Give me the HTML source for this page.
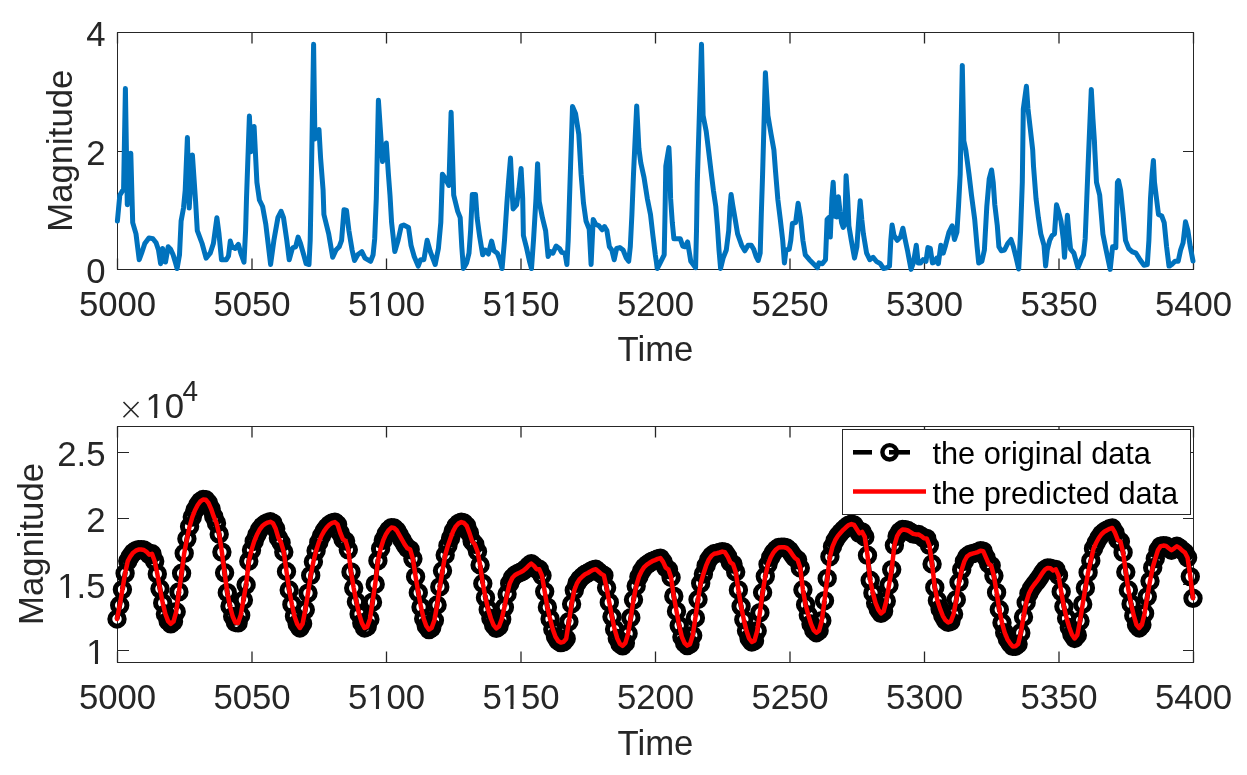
<!DOCTYPE html>
<html><head><meta charset="utf-8"><style>
html,body{margin:0;padding:0;background:#fff;}
body{width:1247px;height:775px;overflow:hidden;}
svg{display:block;will-change:transform;}
text{font-family:"Liberation Sans",sans-serif;}
</style></head><body>
<svg width="1247" height="775" viewBox="0 0 1247 775">
<rect width="1247" height="775" fill="#fff"/>
<g shape-rendering="crispEdges">
<rect x="117.5" y="32.5" width="1076" height="237" fill="none" stroke="#262626" stroke-width="1"/>
<line x1="117.5" y1="269.5" x2="117.5" y2="258.5" stroke="#262626" stroke-width="1.3" shape-rendering="auto"/>
<line x1="117.5" y1="32.5" x2="117.5" y2="43.5" stroke="#262626" stroke-width="1.3" shape-rendering="auto"/>
<line x1="252.0" y1="269.5" x2="252.0" y2="258.5" stroke="#262626" stroke-width="1.3" shape-rendering="auto"/>
<line x1="252.0" y1="32.5" x2="252.0" y2="43.5" stroke="#262626" stroke-width="1.3" shape-rendering="auto"/>
<line x1="386.5" y1="269.5" x2="386.5" y2="258.5" stroke="#262626" stroke-width="1.3" shape-rendering="auto"/>
<line x1="386.5" y1="32.5" x2="386.5" y2="43.5" stroke="#262626" stroke-width="1.3" shape-rendering="auto"/>
<line x1="521.0" y1="269.5" x2="521.0" y2="258.5" stroke="#262626" stroke-width="1.3" shape-rendering="auto"/>
<line x1="521.0" y1="32.5" x2="521.0" y2="43.5" stroke="#262626" stroke-width="1.3" shape-rendering="auto"/>
<line x1="655.5" y1="269.5" x2="655.5" y2="258.5" stroke="#262626" stroke-width="1.3" shape-rendering="auto"/>
<line x1="655.5" y1="32.5" x2="655.5" y2="43.5" stroke="#262626" stroke-width="1.3" shape-rendering="auto"/>
<line x1="790.0" y1="269.5" x2="790.0" y2="258.5" stroke="#262626" stroke-width="1.3" shape-rendering="auto"/>
<line x1="790.0" y1="32.5" x2="790.0" y2="43.5" stroke="#262626" stroke-width="1.3" shape-rendering="auto"/>
<line x1="924.5" y1="269.5" x2="924.5" y2="258.5" stroke="#262626" stroke-width="1.3" shape-rendering="auto"/>
<line x1="924.5" y1="32.5" x2="924.5" y2="43.5" stroke="#262626" stroke-width="1.3" shape-rendering="auto"/>
<line x1="1059.0" y1="269.5" x2="1059.0" y2="258.5" stroke="#262626" stroke-width="1.3" shape-rendering="auto"/>
<line x1="1059.0" y1="32.5" x2="1059.0" y2="43.5" stroke="#262626" stroke-width="1.3" shape-rendering="auto"/>
<line x1="1193.5" y1="269.5" x2="1193.5" y2="258.5" stroke="#262626" stroke-width="1.3" shape-rendering="auto"/>
<line x1="1193.5" y1="32.5" x2="1193.5" y2="43.5" stroke="#262626" stroke-width="1.3" shape-rendering="auto"/>
<line x1="117.5" y1="269.5" x2="128.5" y2="269.5" stroke="#262626" stroke-width="1"/>
<line x1="1193.5" y1="269.5" x2="1182.5" y2="269.5" stroke="#262626" stroke-width="1"/>
<line x1="117.5" y1="151.5" x2="128.5" y2="151.5" stroke="#262626" stroke-width="1"/>
<line x1="1193.5" y1="151.5" x2="1182.5" y2="151.5" stroke="#262626" stroke-width="1"/>
<line x1="117.5" y1="32.5" x2="128.5" y2="32.5" stroke="#262626" stroke-width="1"/>
<line x1="1193.5" y1="32.5" x2="1182.5" y2="32.5" stroke="#262626" stroke-width="1"/>
<rect x="117.5" y="426.5" width="1076" height="236" fill="none" stroke="#262626" stroke-width="1"/>
<line x1="117.5" y1="662.5" x2="117.5" y2="651.5" stroke="#262626" stroke-width="1.3" shape-rendering="auto"/>
<line x1="117.5" y1="426.5" x2="117.5" y2="437.5" stroke="#262626" stroke-width="1.3" shape-rendering="auto"/>
<line x1="252.0" y1="662.5" x2="252.0" y2="651.5" stroke="#262626" stroke-width="1.3" shape-rendering="auto"/>
<line x1="252.0" y1="426.5" x2="252.0" y2="437.5" stroke="#262626" stroke-width="1.3" shape-rendering="auto"/>
<line x1="386.5" y1="662.5" x2="386.5" y2="651.5" stroke="#262626" stroke-width="1.3" shape-rendering="auto"/>
<line x1="386.5" y1="426.5" x2="386.5" y2="437.5" stroke="#262626" stroke-width="1.3" shape-rendering="auto"/>
<line x1="521.0" y1="662.5" x2="521.0" y2="651.5" stroke="#262626" stroke-width="1.3" shape-rendering="auto"/>
<line x1="521.0" y1="426.5" x2="521.0" y2="437.5" stroke="#262626" stroke-width="1.3" shape-rendering="auto"/>
<line x1="655.5" y1="662.5" x2="655.5" y2="651.5" stroke="#262626" stroke-width="1.3" shape-rendering="auto"/>
<line x1="655.5" y1="426.5" x2="655.5" y2="437.5" stroke="#262626" stroke-width="1.3" shape-rendering="auto"/>
<line x1="790.0" y1="662.5" x2="790.0" y2="651.5" stroke="#262626" stroke-width="1.3" shape-rendering="auto"/>
<line x1="790.0" y1="426.5" x2="790.0" y2="437.5" stroke="#262626" stroke-width="1.3" shape-rendering="auto"/>
<line x1="924.5" y1="662.5" x2="924.5" y2="651.5" stroke="#262626" stroke-width="1.3" shape-rendering="auto"/>
<line x1="924.5" y1="426.5" x2="924.5" y2="437.5" stroke="#262626" stroke-width="1.3" shape-rendering="auto"/>
<line x1="1059.0" y1="662.5" x2="1059.0" y2="651.5" stroke="#262626" stroke-width="1.3" shape-rendering="auto"/>
<line x1="1059.0" y1="426.5" x2="1059.0" y2="437.5" stroke="#262626" stroke-width="1.3" shape-rendering="auto"/>
<line x1="1193.5" y1="662.5" x2="1193.5" y2="651.5" stroke="#262626" stroke-width="1.3" shape-rendering="auto"/>
<line x1="1193.5" y1="426.5" x2="1193.5" y2="437.5" stroke="#262626" stroke-width="1.3" shape-rendering="auto"/>
<line x1="117.5" y1="650.5" x2="128.5" y2="650.5" stroke="#262626" stroke-width="1"/>
<line x1="1193.5" y1="650.5" x2="1182.5" y2="650.5" stroke="#262626" stroke-width="1"/>
<line x1="117.5" y1="584.5" x2="128.5" y2="584.5" stroke="#262626" stroke-width="1"/>
<line x1="1193.5" y1="584.5" x2="1182.5" y2="584.5" stroke="#262626" stroke-width="1"/>
<line x1="117.5" y1="518.5" x2="128.5" y2="518.5" stroke="#262626" stroke-width="1"/>
<line x1="1193.5" y1="518.5" x2="1182.5" y2="518.5" stroke="#262626" stroke-width="1"/>
<line x1="117.5" y1="452.5" x2="128.5" y2="452.5" stroke="#262626" stroke-width="1"/>
<line x1="1193.5" y1="452.5" x2="1182.5" y2="452.5" stroke="#262626" stroke-width="1"/>
</g>
<g font-size="34.7" fill="#262626">
<text transform="translate(105.5 283.0) scale(1 1.03)" text-anchor="end">0</text>
<text transform="translate(105.5 165.0) scale(1 1.03)" text-anchor="end">2</text>
<text transform="translate(105.5 46.0) scale(1 1.03)" text-anchor="end">4</text>
<text transform="translate(105.5 664.0) scale(1 1.03)" text-anchor="end">1</text>
<text transform="translate(105.5 598.0) scale(1 1.03)" text-anchor="end">1.5</text>
<text transform="translate(105.5 532.0) scale(1 1.03)" text-anchor="end">2</text>
<text transform="translate(105.5 466.0) scale(1 1.03)" text-anchor="end">2.5</text>
<text transform="translate(117.5 316.1) scale(1 1.03)" text-anchor="middle">5000</text>
<text transform="translate(252.0 316.1) scale(1 1.03)" text-anchor="middle">5050</text>
<text transform="translate(386.5 316.1) scale(1 1.03)" text-anchor="middle">5100</text>
<text transform="translate(521.0 316.1) scale(1 1.03)" text-anchor="middle">5150</text>
<text transform="translate(655.5 316.1) scale(1 1.03)" text-anchor="middle">5200</text>
<text transform="translate(790.0 316.1) scale(1 1.03)" text-anchor="middle">5250</text>
<text transform="translate(924.5 316.1) scale(1 1.03)" text-anchor="middle">5300</text>
<text transform="translate(1059.0 316.1) scale(1 1.03)" text-anchor="middle">5350</text>
<text transform="translate(1193.5 316.1) scale(1 1.03)" text-anchor="middle">5400</text>
<text transform="translate(117.5 709.4) scale(1 1.03)" text-anchor="middle">5000</text>
<text transform="translate(252.0 709.4) scale(1 1.03)" text-anchor="middle">5050</text>
<text transform="translate(386.5 709.4) scale(1 1.03)" text-anchor="middle">5100</text>
<text transform="translate(521.0 709.4) scale(1 1.03)" text-anchor="middle">5150</text>
<text transform="translate(655.5 709.4) scale(1 1.03)" text-anchor="middle">5200</text>
<text transform="translate(790.0 709.4) scale(1 1.03)" text-anchor="middle">5250</text>
<text transform="translate(924.5 709.4) scale(1 1.03)" text-anchor="middle">5300</text>
<text transform="translate(1059.0 709.4) scale(1 1.03)" text-anchor="middle">5350</text>
<text transform="translate(1193.5 709.4) scale(1 1.03)" text-anchor="middle">5400</text>
<text transform="translate(655.5 361.0) scale(1 1.03)" text-anchor="middle">Time</text>
<text transform="translate(655.5 754.7) scale(1 1.03)" text-anchor="middle">Time</text>
<text transform="translate(72.3 150.7) rotate(-90) scale(1 1.03)" text-anchor="middle">Magnitude</text>
<text transform="translate(43.1 544) rotate(-90) scale(1 1.03)" text-anchor="middle">Magnitude</text>
<text transform="translate(145.4 418.3) scale(1 1.03)" text-anchor="start">10</text>
<text transform="translate(182.5 401) scale(1 1.03)" font-size="28">4</text>
</g>
<rect x="368.24" y="312.20" width="7.68" height="4.6" fill="#fff"/><rect x="378.99" y="312.20" width="7.41" height="4.6" fill="#fff"/>
<rect x="502.74" y="312.20" width="7.68" height="4.6" fill="#fff"/><rect x="513.49" y="312.20" width="7.41" height="4.6" fill="#fff"/>
<rect x="368.24" y="705.50" width="7.68" height="4.6" fill="#fff"/><rect x="378.99" y="705.50" width="7.41" height="4.6" fill="#fff"/>
<rect x="502.74" y="705.50" width="7.68" height="4.6" fill="#fff"/><rect x="513.49" y="705.50" width="7.41" height="4.6" fill="#fff"/>
<rect x="58.31" y="594.10" width="7.68" height="4.6" fill="#fff"/><rect x="69.05" y="594.10" width="7.41" height="4.6" fill="#fff"/>
<rect x="87.24" y="660.10" width="7.68" height="4.6" fill="#fff"/><rect x="97.99" y="660.10" width="7.41" height="4.6" fill="#fff"/>
<rect x="146.44" y="414.40" width="7.68" height="4.6" fill="#fff"/><rect x="157.19" y="414.40" width="7.41" height="4.6" fill="#fff"/>
<path d="M117.4 221.0 L119.8 195.2 L122.3 191.1 L123.6 189.0 L125.4 88.5 L127.3 204.8 L130.8 153.3 L132.7 222.6 L136.0 233.9 L139.2 259.7 L141.6 253.2 L144.8 243.5 L148.9 237.9 L152.9 238.7 L156.1 242.7 L158.5 250.0 L160.6 263.7 L162.6 248.4 L164.2 261.3 L165.5 262.0 L168.2 246.8 L170.6 249.2 L173.1 254.8 L175.5 262.9 L177.1 268.5 L179.5 254.8 L181.1 221.0 L183.5 208.1 L185.2 190.3 L187.4 137.5 L189.2 208.1 L192.4 154.9 L195.6 201.6 L197.3 230.6 L202.1 243.5 L206.1 258.1 L210.2 253.2 L213.4 243.5 L216.9 217.7 L219.0 233.9 L221.5 259.7 L226.3 259.7 L228.5 256.0 L230.3 241.1 L232.0 246.8 L235.2 248.4 L238.4 244.4 L240.8 253.2 L244.0 262.1 L245.6 230.6 L246.5 198.4 L249.4 116.0 L251.0 151.7 L254.1 126.4 L256.9 182.3 L259.4 200.0 L262.6 206.5 L265.8 224.2 L270.6 264.5 L273.9 240.3 L277.9 217.7 L281.1 211.3 L283.5 217.7 L286.8 240.3 L289.2 259.7 L292.4 248.4 L293.2 247.6 L295.6 246.8 L298.1 237.1 L300.5 243.5 L303.7 254.8 L306.1 263.7 L309.0 264.5 L310.2 240.3 L311.0 198.4 L313.6 44.2 L314.9 139.1 L319.0 129.6 L320.6 158.1 L323.1 190.3 L323.9 214.5 L328.7 233.9 L332.7 257.3 L336.0 250.0 L339.2 246.8 L341.6 240.3 L344.0 209.7 L346.5 210.5 L348.9 230.6 L352.1 250.0 L354.5 260.5 L357.7 254.8 L361.8 251.6 L365.0 258.1 L370.6 261.3 L373.1 254.8 L374.7 238.7 L376.3 198.4 L378.4 100.2 L382.5 161.5 L386.3 143.0 L388.4 174.2 L390.0 195.2 L391.6 222.6 L394.8 251.6 L398.1 240.3 L401.3 225.8 L403.7 225.0 L408.5 227.4 L411.0 245.2 L414.2 256.5 L418.2 266.1 L420.6 259.7 L423.9 259.7 L427.1 240.3 L430.3 251.6 L435.2 264.5 L438.4 248.4 L440.8 222.6 L442.4 174.2 L445.6 179.0 L448.9 185.5 L451.1 112.2 L453.7 195.2 L457.7 211.3 L460.2 217.7 L461.8 246.8 L463.4 268.5 L465.8 264.5 L466.6 262.9 L469.0 253.2 L470.6 230.6 L472.3 194.4 L475.5 194.4 L477.1 217.7 L479.5 235.5 L482.7 254.8 L485.2 250.0 L488.4 254.0 L491.6 241.1 L494.0 250.8 L497.3 253.2 L499.7 259.7 L502.1 268.5 L504.5 240.3 L506.9 203.2 L508.5 182.3 L510.5 158.1 L512.1 191.9 L513.1 208.9 L516.6 204.8 L519.0 188.7 L521.1 168.5 L522.7 198.4 L523.4 235.5 L526.3 246.8 L529.5 261.3 L531.5 268.5 L533.5 240.3 L536.0 198.4 L537.6 163.7 L539.2 201.6 L542.4 217.7 L545.6 230.6 L548.1 256.5 L550.5 251.6 L552.9 253.2 L556.1 246.0 L559.4 248.4 L561.8 252.4 L565.0 253.2 L566.9 264.5 L568.2 240.3 L569.5 198.4 L572.5 106.5 L575.6 113.8 L578.8 134.4 L581.1 174.2 L583.5 203.2 L586.0 221.0 L589.2 229.0 L591.1 264.5 L593.2 219.4 L595.6 224.2 L598.9 225.8 L602.1 229.8 L604.5 226.6 L606.9 230.6 L609.4 246.8 L611.8 250.0 L614.2 259.7 L616.6 248.4 L619.8 247.6 L623.1 250.0 L626.3 258.1 L628.7 261.3 L630.3 246.8 L631.9 214.5 L633.5 174.2 L636.7 105.9 L638.9 148.6 L640.8 162.9 L644.0 177.4 L647.3 198.4 L650.5 214.5 L652.9 235.5 L655.3 254.8 L657.4 268.5 L660.2 262.9 L664.2 254.8 L665.0 214.5 L665.8 166.1 L668.9 147.6 L669.8 166.1 L670.6 198.4 L672.3 222.6 L673.9 238.7 L677.9 238.7 L680.3 238.7 L682.7 246.0 L685.2 246.8 L687.6 241.9 L689.2 251.6 L690.8 261.3 L693.2 264.5 L695.6 267.7 L696.5 230.6 L697.3 182.3 L701.5 44.2 L703.1 115.4 L706.2 131.2 L708.5 150.0 L711.0 171.0 L713.4 190.3 L715.8 206.5 L717.4 225.8 L719.0 250.0 L720.6 268.5 L723.1 258.1 L726.3 250.0 L728.7 230.6 L730.0 206.5 L731.1 194.4 L732.7 204.8 L735.2 219.4 L737.6 233.9 L741.6 245.2 L744.8 250.8 L748.1 245.2 L751.3 245.2 L753.7 249.2 L756.1 256.5 L758.2 260.5 L760.2 253.2 L761.3 214.5 L762.6 174.2 L765.4 72.7 L767.9 115.4 L771.1 134.4 L773.9 150.0 L775.5 171.0 L777.9 200.0 L780.3 219.4 L782.7 240.3 L784.4 262.9 L786.0 250.0 L789.2 249.2 L790.8 240.3 L792.4 223.4 L795.6 222.6 L798.1 203.2 L800.5 217.7 L802.9 240.3 L805.3 254.8 L809.4 259.7 L813.4 263.7 L817.4 267.7 L819.0 262.9 L822.3 263.7 L825.5 259.7 L827.1 219.4 L828.7 217.7 L830.3 237.1 L831.9 198.4 L833.2 182.3 L834.8 216.1 L836.8 216.9 L838.4 196.8 L840.0 211.3 L841.6 222.6 L843.2 227.4 L844.8 224.2 L846.1 175.8 L847.7 198.4 L848.9 225.8 L851.3 240.3 L854.5 258.1 L856.9 246.8 L858.5 222.6 L860.2 200.8 L861.8 219.4 L863.4 233.9 L866.6 253.2 L869.8 259.7 L873.1 257.3 L876.3 261.3 L880.3 263.7 L883.5 268.5 L886.8 267.7 L889.5 266.1 L890.8 240.3 L892.1 225.0 L894.0 235.5 L897.3 240.3 L900.5 237.1 L902.9 228.2 L905.3 240.3 L907.7 251.6 L911.0 269.4 L913.4 262.9 L916.3 245.2 L918.2 262.9 L920.6 262.9 L923.1 259.7 L926.0 261.3 L927.9 247.6 L930.3 248.4 L932.4 262.9 L934.4 262.1 L936.8 258.1 L938.4 263.7 L940.8 245.2 L943.2 253.2 L945.6 245.2 L948.9 232.3 L952.1 225.8 L954.5 239.5 L956.9 232.3 L958.5 206.5 L960.2 174.2 L962.3 65.4 L963.8 140.7 L965.8 150.0 L969.0 174.2 L971.5 195.2 L974.7 219.4 L977.1 246.8 L978.7 262.9 L981.9 261.3 L984.4 250.0 L986.8 206.5 L989.2 179.0 L991.6 170.0 L993.2 182.3 L994.8 204.8 L997.3 225.8 L998.9 246.8 L1001.3 250.8 L1004.5 250.0 L1007.7 243.5 L1011.0 239.5 L1013.4 246.8 L1015.8 256.5 L1018.7 269.0 L1020.6 230.6 L1022.3 182.3 L1023.3 109.0 L1026.4 86.3 L1028.0 109.0 L1030.2 128.0 L1032.7 150.0 L1033.5 166.1 L1036.0 198.4 L1038.4 217.7 L1040.8 233.9 L1044.0 245.2 L1045.6 266.1 L1047.3 250.0 L1049.7 240.3 L1052.1 235.5 L1054.5 233.9 L1056.5 204.8 L1058.5 211.3 L1061.0 221.0 L1063.4 240.3 L1064.5 257.3 L1065.8 238.7 L1067.4 215.3 L1069.0 233.9 L1070.6 249.2 L1073.9 253.2 L1077.9 267.7 L1081.1 259.7 L1083.5 254.8 L1085.2 238.7 L1086.8 198.4 L1088.4 158.1 L1091.3 89.4 L1092.9 118.5 L1094.4 140.7 L1094.8 150.0 L1096.5 182.3 L1099.7 195.2 L1102.9 233.9 L1106.1 250.0 L1110.2 269.4 L1112.6 246.8 L1115.8 247.6 L1117.4 182.3 L1118.5 180.6 L1120.6 190.3 L1123.1 214.5 L1125.5 240.3 L1128.7 248.4 L1131.9 251.6 L1136.0 253.2 L1140.0 259.7 L1144.0 265.3 L1147.3 264.5 L1148.9 240.3 L1150.5 198.4 L1152.1 174.2 L1153.4 160.5 L1154.5 182.3 L1156.1 195.2 L1158.5 214.5 L1161.8 216.1 L1164.2 222.6 L1166.6 246.8 L1169.0 266.1 L1169.4 266.1 L1171.8 264.5 L1175.0 261.3 L1178.2 261.3 L1180.6 250.0 L1183.1 242.7 L1185.5 221.8 L1187.9 230.6 L1190.3 246.8 L1193.0 261.0" fill="none" stroke="#0072BD" stroke-width="5" stroke-linejoin="round" stroke-linecap="round"/>
<g fill="none" stroke="#000" stroke-width="5.0">
<path d="M117.0 619.0 L119.7 605.3 L122.4 589.6 L125.1 573.3 L127.8 561.1 L130.4 556.3 L133.1 552.7 L135.8 550.7 L138.5 549.6 L141.2 549.6 L143.9 550.0 L146.6 551.8 L149.3 554.7 L152.0 553.8 L154.7 561.2 L157.3 573.9 L160.0 588.8 L162.7 602.9 L165.4 614.0 L168.1 621.1 L170.8 623.8 L173.5 621.6 L176.2 611.8 L178.9 591.9 L181.6 573.3 L184.2 553.3 L186.9 538.8 L189.6 526.5 L192.3 517.1 L195.0 510.2 L197.7 505.0 L200.4 501.4 L203.1 499.5 L205.8 499.8 L208.5 503.0 L211.1 508.8 L213.8 516.7 L216.5 523.2 L219.2 534.2 L221.9 552.1 L224.6 572.8 L227.3 592.7 L230.0 606.2 L232.7 616.5 L235.4 622.5 L238.1 622.9 L240.7 615.3 L243.4 600.1 L246.1 584.8 L248.8 561.2 L251.5 550.1 L254.2 541.3 L256.9 534.8 L259.6 529.7 L262.3 526.1 L264.9 524.0 L267.6 522.6 L270.3 521.8 L273.0 523.2 L275.7 528.8 L278.4 537.9 L281.1 542.7 L283.8 552.0 L286.5 571.5 L289.2 590.0 L291.9 604.4 L294.5 616.3 L297.2 623.9 L299.9 628.0 L302.6 623.7 L305.3 609.8 L308.0 593.1 L310.7 575.4 L313.4 561.8 L316.1 550.8 L318.8 542.4 L321.4 536.0 L324.1 531.1 L326.8 527.4 L329.5 524.7 L332.2 522.9 L334.9 522.1 L337.6 524.5 L340.3 533.0 L343.0 539.3 L345.6 541.0 L348.3 549.8 L351.0 571.9 L353.7 588.1 L356.4 601.8 L359.1 613.9 L361.8 622.9 L364.5 628.0 L367.2 626.7 L369.9 619.2 L372.5 602.2 L375.2 584.2 L377.9 560.7 L380.6 548.7 L383.3 540.2 L386.0 534.2 L388.7 530.1 L391.4 527.6 L394.1 528.0 L396.8 530.5 L399.4 535.2 L402.1 539.9 L404.8 544.6 L407.5 548.3 L410.2 549.6 L412.9 558.8 L415.6 576.7 L418.3 592.7 L421.0 607.1 L423.7 618.8 L426.3 626.0 L429.0 629.6 L431.7 627.8 L434.4 620.3 L437.1 605.0 L439.8 586.9 L442.5 570.8 L445.2 555.0 L447.9 545.7 L450.6 538.1 L453.2 531.1 L455.9 526.2 L458.6 523.4 L461.3 522.1 L464.0 523.0 L466.7 525.9 L469.4 532.9 L472.1 541.1 L474.8 544.4 L477.5 551.5 L480.1 565.0 L482.8 583.5 L485.5 597.7 L488.2 609.5 L490.9 618.5 L493.6 625.1 L496.3 628.4 L499.0 626.5 L501.7 619.3 L504.4 607.3 L507.1 594.0 L509.7 583.4 L512.4 577.8 L515.1 575.0 L517.8 573.5 L520.5 572.3 L523.2 570.8 L525.9 568.6 L528.6 565.8 L531.3 563.6 L534.0 565.9 L536.6 569.2 L539.3 569.3 L542.0 575.6 L544.7 591.6 L547.4 607.2 L550.1 618.9 L552.8 629.2 L555.5 636.8 L558.2 641.0 L560.8 642.6 L563.5 641.9 L566.2 638.7 L568.9 621.7 L571.6 604.0 L574.3 590.3 L577.0 583.2 L579.7 579.1 L582.4 576.5 L585.1 574.3 L587.8 573.0 L590.4 571.4 L593.1 569.9 L595.8 569.3 L598.5 571.5 L601.2 573.9 L603.9 575.4 L606.6 587.8 L609.3 602.4 L612.0 616.8 L614.6 629.2 L617.3 638.5 L620.0 644.0 L622.7 645.8 L625.4 642.9 L628.1 633.6 L630.8 617.7 L633.5 599.8 L636.2 586.0 L638.9 576.8 L641.5 571.2 L644.2 567.1 L646.9 564.6 L649.6 562.8 L652.3 561.2 L655.0 560.1 L657.7 558.9 L660.4 558.1 L663.1 561.9 L665.8 567.7 L668.5 569.6 L671.1 577.5 L673.8 596.2 L676.5 611.2 L679.2 625.6 L681.9 637.0 L684.6 643.1 L687.3 645.6 L690.0 644.2 L692.7 635.5 L695.4 617.9 L698.0 599.5 L700.7 583.3 L703.4 574.0 L706.1 565.7 L708.8 559.5 L711.5 555.8 L714.2 553.8 L716.9 553.2 L719.6 552.5 L722.2 551.6 L724.9 552.3 L727.6 556.4 L730.3 562.3 L733.0 564.1 L735.7 572.0 L738.4 589.9 L741.1 606.3 L743.8 619.6 L746.5 630.8 L749.1 638.5 L751.8 642.0 L754.5 640.7 L757.2 630.8 L759.9 612.7 L762.6 592.5 L765.3 576.3 L768.0 564.3 L770.7 557.4 L773.4 552.7 L776.0 549.5 L778.7 547.5 L781.4 547.3 L784.1 547.3 L786.8 548.0 L789.5 550.4 L792.2 554.3 L794.9 558.0 L797.6 559.8 L800.3 568.0 L802.9 589.8 L805.6 604.7 L808.3 615.0 L811.0 623.9 L813.7 630.1 L816.4 632.7 L819.1 630.7 L821.8 620.7 L824.5 600.7 L827.2 578.4 L829.9 556.7 L832.5 546.6 L835.2 540.3 L837.9 535.9 L840.6 532.7 L843.3 529.8 L846.0 527.3 L848.7 525.1 L851.4 524.1 L854.1 525.0 L856.8 529.2 L859.4 533.4 L862.1 531.9 L864.8 536.9 L867.5 555.3 L870.2 580.3 L872.9 592.9 L875.6 603.1 L878.3 609.7 L881.0 613.4 L883.6 611.3 L886.3 601.1 L889.0 585.1 L891.7 569.6 L894.4 545.3 L897.1 536.2 L899.8 531.7 L902.5 529.5 L905.2 529.8 L907.9 530.5 L910.5 532.1 L913.2 533.9 L915.9 534.4 L918.6 534.5 L921.3 536.1 L924.0 538.3 L926.7 538.4 L929.4 545.3 L932.1 564.0 L934.8 587.4 L937.4 600.6 L940.1 608.9 L942.8 615.8 L945.5 620.3 L948.2 622.4 L950.9 621.3 L953.6 614.0 L956.3 599.7 L959.0 582.3 L961.7 569.7 L964.4 561.3 L967.0 556.5 L969.7 554.5 L972.4 553.6 L975.1 552.9 L977.8 552.1 L980.5 550.7 L983.2 551.2 L985.9 557.3 L988.6 563.6 L991.2 565.6 L993.9 575.8 L996.6 592.4 L999.3 609.5 L1002.0 622.8 L1004.7 632.7 L1007.4 639.2 L1010.1 643.4 L1012.8 646.4 L1015.5 646.2 L1018.1 644.1 L1020.8 632.9 L1023.5 617.0 L1026.2 602.5 L1028.9 593.6 L1031.6 588.3 L1034.3 584.5 L1037.0 581.2 L1039.7 577.3 L1042.4 573.0 L1045.0 569.7 L1047.7 567.9 L1050.4 568.3 L1053.1 570.5 L1055.8 569.4 L1058.5 575.4 L1061.2 591.7 L1063.9 606.6 L1066.6 618.2 L1069.3 627.5 L1071.9 634.5 L1074.6 638.5 L1077.3 635.2 L1080.0 621.1 L1082.7 604.2 L1085.4 587.9 L1088.1 572.4 L1090.8 560.7 L1093.5 548.7 L1096.2 542.8 L1098.8 538.0 L1101.5 534.2 L1104.2 531.8 L1106.9 530.2 L1109.6 528.8 L1112.3 528.0 L1115.0 532.7 L1117.7 539.7 L1120.4 541.5 L1123.1 552.4 L1125.8 572.0 L1128.4 590.0 L1131.1 603.9 L1133.8 615.7 L1136.5 624.8 L1139.2 628.0 L1141.9 624.8 L1144.6 613.4 L1147.3 596.6 L1150.0 581.1 L1152.7 567.7 L1155.3 558.6 L1158.0 550.0 L1160.7 546.1 L1163.4 545.6 L1166.1 546.0 L1168.8 548.2 L1171.5 550.2 L1174.2 548.3 L1176.9 546.3 L1179.5 547.9 L1182.2 550.5 L1184.9 552.5 L1187.6 557.7 L1190.3 576.6 L1193.0 598.3" stroke-dasharray="18 12"/>
<circle cx="117.0" cy="619.0" r="7.2"/><circle cx="119.7" cy="605.3" r="7.2"/><circle cx="122.4" cy="589.6" r="7.2"/><circle cx="125.1" cy="573.3" r="7.2"/><circle cx="127.8" cy="561.1" r="7.2"/><circle cx="130.4" cy="556.3" r="7.2"/><circle cx="133.1" cy="552.7" r="7.2"/><circle cx="135.8" cy="550.7" r="7.2"/><circle cx="138.5" cy="549.6" r="7.2"/><circle cx="141.2" cy="549.6" r="7.2"/><circle cx="143.9" cy="550.0" r="7.2"/><circle cx="146.6" cy="551.8" r="7.2"/><circle cx="149.3" cy="554.7" r="7.2"/><circle cx="152.0" cy="553.8" r="7.2"/><circle cx="154.7" cy="561.2" r="7.2"/><circle cx="157.3" cy="573.9" r="7.2"/><circle cx="160.0" cy="588.8" r="7.2"/><circle cx="162.7" cy="602.9" r="7.2"/><circle cx="165.4" cy="614.0" r="7.2"/><circle cx="168.1" cy="621.1" r="7.2"/><circle cx="170.8" cy="623.8" r="7.2"/><circle cx="173.5" cy="621.6" r="7.2"/><circle cx="176.2" cy="611.8" r="7.2"/><circle cx="178.9" cy="591.9" r="7.2"/><circle cx="181.6" cy="573.3" r="7.2"/><circle cx="184.2" cy="553.3" r="7.2"/><circle cx="186.9" cy="538.8" r="7.2"/><circle cx="189.6" cy="526.5" r="7.2"/><circle cx="192.3" cy="517.1" r="7.2"/><circle cx="195.0" cy="510.2" r="7.2"/><circle cx="197.7" cy="505.0" r="7.2"/><circle cx="200.4" cy="501.4" r="7.2"/><circle cx="203.1" cy="499.5" r="7.2"/><circle cx="205.8" cy="499.8" r="7.2"/><circle cx="208.5" cy="503.0" r="7.2"/><circle cx="211.1" cy="508.8" r="7.2"/><circle cx="213.8" cy="516.7" r="7.2"/><circle cx="216.5" cy="523.2" r="7.2"/><circle cx="219.2" cy="534.2" r="7.2"/><circle cx="221.9" cy="552.1" r="7.2"/><circle cx="224.6" cy="572.8" r="7.2"/><circle cx="227.3" cy="592.7" r="7.2"/><circle cx="230.0" cy="606.2" r="7.2"/><circle cx="232.7" cy="616.5" r="7.2"/><circle cx="235.4" cy="622.5" r="7.2"/><circle cx="238.1" cy="622.9" r="7.2"/><circle cx="240.7" cy="615.3" r="7.2"/><circle cx="243.4" cy="600.1" r="7.2"/><circle cx="246.1" cy="584.8" r="7.2"/><circle cx="248.8" cy="561.2" r="7.2"/><circle cx="251.5" cy="550.1" r="7.2"/><circle cx="254.2" cy="541.3" r="7.2"/><circle cx="256.9" cy="534.8" r="7.2"/><circle cx="259.6" cy="529.7" r="7.2"/><circle cx="262.3" cy="526.1" r="7.2"/><circle cx="264.9" cy="524.0" r="7.2"/><circle cx="267.6" cy="522.6" r="7.2"/><circle cx="270.3" cy="521.8" r="7.2"/><circle cx="273.0" cy="523.2" r="7.2"/><circle cx="275.7" cy="528.8" r="7.2"/><circle cx="278.4" cy="537.9" r="7.2"/><circle cx="281.1" cy="542.7" r="7.2"/><circle cx="283.8" cy="552.0" r="7.2"/><circle cx="286.5" cy="571.5" r="7.2"/><circle cx="289.2" cy="590.0" r="7.2"/><circle cx="291.9" cy="604.4" r="7.2"/><circle cx="294.5" cy="616.3" r="7.2"/><circle cx="297.2" cy="623.9" r="7.2"/><circle cx="299.9" cy="628.0" r="7.2"/><circle cx="302.6" cy="623.7" r="7.2"/><circle cx="305.3" cy="609.8" r="7.2"/><circle cx="308.0" cy="593.1" r="7.2"/><circle cx="310.7" cy="575.4" r="7.2"/><circle cx="313.4" cy="561.8" r="7.2"/><circle cx="316.1" cy="550.8" r="7.2"/><circle cx="318.8" cy="542.4" r="7.2"/><circle cx="321.4" cy="536.0" r="7.2"/><circle cx="324.1" cy="531.1" r="7.2"/><circle cx="326.8" cy="527.4" r="7.2"/><circle cx="329.5" cy="524.7" r="7.2"/><circle cx="332.2" cy="522.9" r="7.2"/><circle cx="334.9" cy="522.1" r="7.2"/><circle cx="337.6" cy="524.5" r="7.2"/><circle cx="340.3" cy="533.0" r="7.2"/><circle cx="343.0" cy="539.3" r="7.2"/><circle cx="345.6" cy="541.0" r="7.2"/><circle cx="348.3" cy="549.8" r="7.2"/><circle cx="351.0" cy="571.9" r="7.2"/><circle cx="353.7" cy="588.1" r="7.2"/><circle cx="356.4" cy="601.8" r="7.2"/><circle cx="359.1" cy="613.9" r="7.2"/><circle cx="361.8" cy="622.9" r="7.2"/><circle cx="364.5" cy="628.0" r="7.2"/><circle cx="367.2" cy="626.7" r="7.2"/><circle cx="369.9" cy="619.2" r="7.2"/><circle cx="372.5" cy="602.2" r="7.2"/><circle cx="375.2" cy="584.2" r="7.2"/><circle cx="377.9" cy="560.7" r="7.2"/><circle cx="380.6" cy="548.7" r="7.2"/><circle cx="383.3" cy="540.2" r="7.2"/><circle cx="386.0" cy="534.2" r="7.2"/><circle cx="388.7" cy="530.1" r="7.2"/><circle cx="391.4" cy="527.6" r="7.2"/><circle cx="394.1" cy="528.0" r="7.2"/><circle cx="396.8" cy="530.5" r="7.2"/><circle cx="399.4" cy="535.2" r="7.2"/><circle cx="402.1" cy="539.9" r="7.2"/><circle cx="404.8" cy="544.6" r="7.2"/><circle cx="407.5" cy="548.3" r="7.2"/><circle cx="410.2" cy="549.6" r="7.2"/><circle cx="412.9" cy="558.8" r="7.2"/><circle cx="415.6" cy="576.7" r="7.2"/><circle cx="418.3" cy="592.7" r="7.2"/><circle cx="421.0" cy="607.1" r="7.2"/><circle cx="423.7" cy="618.8" r="7.2"/><circle cx="426.3" cy="626.0" r="7.2"/><circle cx="429.0" cy="629.6" r="7.2"/><circle cx="431.7" cy="627.8" r="7.2"/><circle cx="434.4" cy="620.3" r="7.2"/><circle cx="437.1" cy="605.0" r="7.2"/><circle cx="439.8" cy="586.9" r="7.2"/><circle cx="442.5" cy="570.8" r="7.2"/><circle cx="445.2" cy="555.0" r="7.2"/><circle cx="447.9" cy="545.7" r="7.2"/><circle cx="450.6" cy="538.1" r="7.2"/><circle cx="453.2" cy="531.1" r="7.2"/><circle cx="455.9" cy="526.2" r="7.2"/><circle cx="458.6" cy="523.4" r="7.2"/><circle cx="461.3" cy="522.1" r="7.2"/><circle cx="464.0" cy="523.0" r="7.2"/><circle cx="466.7" cy="525.9" r="7.2"/><circle cx="469.4" cy="532.9" r="7.2"/><circle cx="472.1" cy="541.1" r="7.2"/><circle cx="474.8" cy="544.4" r="7.2"/><circle cx="477.5" cy="551.5" r="7.2"/><circle cx="480.1" cy="565.0" r="7.2"/><circle cx="482.8" cy="583.5" r="7.2"/><circle cx="485.5" cy="597.7" r="7.2"/><circle cx="488.2" cy="609.5" r="7.2"/><circle cx="490.9" cy="618.5" r="7.2"/><circle cx="493.6" cy="625.1" r="7.2"/><circle cx="496.3" cy="628.4" r="7.2"/><circle cx="499.0" cy="626.5" r="7.2"/><circle cx="501.7" cy="619.3" r="7.2"/><circle cx="504.4" cy="607.3" r="7.2"/><circle cx="507.1" cy="594.0" r="7.2"/><circle cx="509.7" cy="583.4" r="7.2"/><circle cx="512.4" cy="577.8" r="7.2"/><circle cx="515.1" cy="575.0" r="7.2"/><circle cx="517.8" cy="573.5" r="7.2"/><circle cx="520.5" cy="572.3" r="7.2"/><circle cx="523.2" cy="570.8" r="7.2"/><circle cx="525.9" cy="568.6" r="7.2"/><circle cx="528.6" cy="565.8" r="7.2"/><circle cx="531.3" cy="563.6" r="7.2"/><circle cx="534.0" cy="565.9" r="7.2"/><circle cx="536.6" cy="569.2" r="7.2"/><circle cx="539.3" cy="569.3" r="7.2"/><circle cx="542.0" cy="575.6" r="7.2"/><circle cx="544.7" cy="591.6" r="7.2"/><circle cx="547.4" cy="607.2" r="7.2"/><circle cx="550.1" cy="618.9" r="7.2"/><circle cx="552.8" cy="629.2" r="7.2"/><circle cx="555.5" cy="636.8" r="7.2"/><circle cx="558.2" cy="641.0" r="7.2"/><circle cx="560.8" cy="642.6" r="7.2"/><circle cx="563.5" cy="641.9" r="7.2"/><circle cx="566.2" cy="638.7" r="7.2"/><circle cx="568.9" cy="621.7" r="7.2"/><circle cx="571.6" cy="604.0" r="7.2"/><circle cx="574.3" cy="590.3" r="7.2"/><circle cx="577.0" cy="583.2" r="7.2"/><circle cx="579.7" cy="579.1" r="7.2"/><circle cx="582.4" cy="576.5" r="7.2"/><circle cx="585.1" cy="574.3" r="7.2"/><circle cx="587.8" cy="573.0" r="7.2"/><circle cx="590.4" cy="571.4" r="7.2"/><circle cx="593.1" cy="569.9" r="7.2"/><circle cx="595.8" cy="569.3" r="7.2"/><circle cx="598.5" cy="571.5" r="7.2"/><circle cx="601.2" cy="573.9" r="7.2"/><circle cx="603.9" cy="575.4" r="7.2"/><circle cx="606.6" cy="587.8" r="7.2"/><circle cx="609.3" cy="602.4" r="7.2"/><circle cx="612.0" cy="616.8" r="7.2"/><circle cx="614.6" cy="629.2" r="7.2"/><circle cx="617.3" cy="638.5" r="7.2"/><circle cx="620.0" cy="644.0" r="7.2"/><circle cx="622.7" cy="645.8" r="7.2"/><circle cx="625.4" cy="642.9" r="7.2"/><circle cx="628.1" cy="633.6" r="7.2"/><circle cx="630.8" cy="617.7" r="7.2"/><circle cx="633.5" cy="599.8" r="7.2"/><circle cx="636.2" cy="586.0" r="7.2"/><circle cx="638.9" cy="576.8" r="7.2"/><circle cx="641.5" cy="571.2" r="7.2"/><circle cx="644.2" cy="567.1" r="7.2"/><circle cx="646.9" cy="564.6" r="7.2"/><circle cx="649.6" cy="562.8" r="7.2"/><circle cx="652.3" cy="561.2" r="7.2"/><circle cx="655.0" cy="560.1" r="7.2"/><circle cx="657.7" cy="558.9" r="7.2"/><circle cx="660.4" cy="558.1" r="7.2"/><circle cx="663.1" cy="561.9" r="7.2"/><circle cx="665.8" cy="567.7" r="7.2"/><circle cx="668.5" cy="569.6" r="7.2"/><circle cx="671.1" cy="577.5" r="7.2"/><circle cx="673.8" cy="596.2" r="7.2"/><circle cx="676.5" cy="611.2" r="7.2"/><circle cx="679.2" cy="625.6" r="7.2"/><circle cx="681.9" cy="637.0" r="7.2"/><circle cx="684.6" cy="643.1" r="7.2"/><circle cx="687.3" cy="645.6" r="7.2"/><circle cx="690.0" cy="644.2" r="7.2"/><circle cx="692.7" cy="635.5" r="7.2"/><circle cx="695.4" cy="617.9" r="7.2"/><circle cx="698.0" cy="599.5" r="7.2"/><circle cx="700.7" cy="583.3" r="7.2"/><circle cx="703.4" cy="574.0" r="7.2"/><circle cx="706.1" cy="565.7" r="7.2"/><circle cx="708.8" cy="559.5" r="7.2"/><circle cx="711.5" cy="555.8" r="7.2"/><circle cx="714.2" cy="553.8" r="7.2"/><circle cx="716.9" cy="553.2" r="7.2"/><circle cx="719.6" cy="552.5" r="7.2"/><circle cx="722.2" cy="551.6" r="7.2"/><circle cx="724.9" cy="552.3" r="7.2"/><circle cx="727.6" cy="556.4" r="7.2"/><circle cx="730.3" cy="562.3" r="7.2"/><circle cx="733.0" cy="564.1" r="7.2"/><circle cx="735.7" cy="572.0" r="7.2"/><circle cx="738.4" cy="589.9" r="7.2"/><circle cx="741.1" cy="606.3" r="7.2"/><circle cx="743.8" cy="619.6" r="7.2"/><circle cx="746.5" cy="630.8" r="7.2"/><circle cx="749.1" cy="638.5" r="7.2"/><circle cx="751.8" cy="642.0" r="7.2"/><circle cx="754.5" cy="640.7" r="7.2"/><circle cx="757.2" cy="630.8" r="7.2"/><circle cx="759.9" cy="612.7" r="7.2"/><circle cx="762.6" cy="592.5" r="7.2"/><circle cx="765.3" cy="576.3" r="7.2"/><circle cx="768.0" cy="564.3" r="7.2"/><circle cx="770.7" cy="557.4" r="7.2"/><circle cx="773.4" cy="552.7" r="7.2"/><circle cx="776.0" cy="549.5" r="7.2"/><circle cx="778.7" cy="547.5" r="7.2"/><circle cx="781.4" cy="547.3" r="7.2"/><circle cx="784.1" cy="547.3" r="7.2"/><circle cx="786.8" cy="548.0" r="7.2"/><circle cx="789.5" cy="550.4" r="7.2"/><circle cx="792.2" cy="554.3" r="7.2"/><circle cx="794.9" cy="558.0" r="7.2"/><circle cx="797.6" cy="559.8" r="7.2"/><circle cx="800.3" cy="568.0" r="7.2"/><circle cx="802.9" cy="589.8" r="7.2"/><circle cx="805.6" cy="604.7" r="7.2"/><circle cx="808.3" cy="615.0" r="7.2"/><circle cx="811.0" cy="623.9" r="7.2"/><circle cx="813.7" cy="630.1" r="7.2"/><circle cx="816.4" cy="632.7" r="7.2"/><circle cx="819.1" cy="630.7" r="7.2"/><circle cx="821.8" cy="620.7" r="7.2"/><circle cx="824.5" cy="600.7" r="7.2"/><circle cx="827.2" cy="578.4" r="7.2"/><circle cx="829.9" cy="556.7" r="7.2"/><circle cx="832.5" cy="546.6" r="7.2"/><circle cx="835.2" cy="540.3" r="7.2"/><circle cx="837.9" cy="535.9" r="7.2"/><circle cx="840.6" cy="532.7" r="7.2"/><circle cx="843.3" cy="529.8" r="7.2"/><circle cx="846.0" cy="527.3" r="7.2"/><circle cx="848.7" cy="525.1" r="7.2"/><circle cx="851.4" cy="524.1" r="7.2"/><circle cx="854.1" cy="525.0" r="7.2"/><circle cx="856.8" cy="529.2" r="7.2"/><circle cx="859.4" cy="533.4" r="7.2"/><circle cx="862.1" cy="531.9" r="7.2"/><circle cx="864.8" cy="536.9" r="7.2"/><circle cx="867.5" cy="555.3" r="7.2"/><circle cx="870.2" cy="580.3" r="7.2"/><circle cx="872.9" cy="592.9" r="7.2"/><circle cx="875.6" cy="603.1" r="7.2"/><circle cx="878.3" cy="609.7" r="7.2"/><circle cx="881.0" cy="613.4" r="7.2"/><circle cx="883.6" cy="611.3" r="7.2"/><circle cx="886.3" cy="601.1" r="7.2"/><circle cx="889.0" cy="585.1" r="7.2"/><circle cx="891.7" cy="569.6" r="7.2"/><circle cx="894.4" cy="545.3" r="7.2"/><circle cx="897.1" cy="536.2" r="7.2"/><circle cx="899.8" cy="531.7" r="7.2"/><circle cx="902.5" cy="529.5" r="7.2"/><circle cx="905.2" cy="529.8" r="7.2"/><circle cx="907.9" cy="530.5" r="7.2"/><circle cx="910.5" cy="532.1" r="7.2"/><circle cx="913.2" cy="533.9" r="7.2"/><circle cx="915.9" cy="534.4" r="7.2"/><circle cx="918.6" cy="534.5" r="7.2"/><circle cx="921.3" cy="536.1" r="7.2"/><circle cx="924.0" cy="538.3" r="7.2"/><circle cx="926.7" cy="538.4" r="7.2"/><circle cx="929.4" cy="545.3" r="7.2"/><circle cx="932.1" cy="564.0" r="7.2"/><circle cx="934.8" cy="587.4" r="7.2"/><circle cx="937.4" cy="600.6" r="7.2"/><circle cx="940.1" cy="608.9" r="7.2"/><circle cx="942.8" cy="615.8" r="7.2"/><circle cx="945.5" cy="620.3" r="7.2"/><circle cx="948.2" cy="622.4" r="7.2"/><circle cx="950.9" cy="621.3" r="7.2"/><circle cx="953.6" cy="614.0" r="7.2"/><circle cx="956.3" cy="599.7" r="7.2"/><circle cx="959.0" cy="582.3" r="7.2"/><circle cx="961.7" cy="569.7" r="7.2"/><circle cx="964.4" cy="561.3" r="7.2"/><circle cx="967.0" cy="556.5" r="7.2"/><circle cx="969.7" cy="554.5" r="7.2"/><circle cx="972.4" cy="553.6" r="7.2"/><circle cx="975.1" cy="552.9" r="7.2"/><circle cx="977.8" cy="552.1" r="7.2"/><circle cx="980.5" cy="550.7" r="7.2"/><circle cx="983.2" cy="551.2" r="7.2"/><circle cx="985.9" cy="557.3" r="7.2"/><circle cx="988.6" cy="563.6" r="7.2"/><circle cx="991.2" cy="565.6" r="7.2"/><circle cx="993.9" cy="575.8" r="7.2"/><circle cx="996.6" cy="592.4" r="7.2"/><circle cx="999.3" cy="609.5" r="7.2"/><circle cx="1002.0" cy="622.8" r="7.2"/><circle cx="1004.7" cy="632.7" r="7.2"/><circle cx="1007.4" cy="639.2" r="7.2"/><circle cx="1010.1" cy="643.4" r="7.2"/><circle cx="1012.8" cy="646.4" r="7.2"/><circle cx="1015.5" cy="646.2" r="7.2"/><circle cx="1018.1" cy="644.1" r="7.2"/><circle cx="1020.8" cy="632.9" r="7.2"/><circle cx="1023.5" cy="617.0" r="7.2"/><circle cx="1026.2" cy="602.5" r="7.2"/><circle cx="1028.9" cy="593.6" r="7.2"/><circle cx="1031.6" cy="588.3" r="7.2"/><circle cx="1034.3" cy="584.5" r="7.2"/><circle cx="1037.0" cy="581.2" r="7.2"/><circle cx="1039.7" cy="577.3" r="7.2"/><circle cx="1042.4" cy="573.0" r="7.2"/><circle cx="1045.0" cy="569.7" r="7.2"/><circle cx="1047.7" cy="567.9" r="7.2"/><circle cx="1050.4" cy="568.3" r="7.2"/><circle cx="1053.1" cy="570.5" r="7.2"/><circle cx="1055.8" cy="569.4" r="7.2"/><circle cx="1058.5" cy="575.4" r="7.2"/><circle cx="1061.2" cy="591.7" r="7.2"/><circle cx="1063.9" cy="606.6" r="7.2"/><circle cx="1066.6" cy="618.2" r="7.2"/><circle cx="1069.3" cy="627.5" r="7.2"/><circle cx="1071.9" cy="634.5" r="7.2"/><circle cx="1074.6" cy="638.5" r="7.2"/><circle cx="1077.3" cy="635.2" r="7.2"/><circle cx="1080.0" cy="621.1" r="7.2"/><circle cx="1082.7" cy="604.2" r="7.2"/><circle cx="1085.4" cy="587.9" r="7.2"/><circle cx="1088.1" cy="572.4" r="7.2"/><circle cx="1090.8" cy="560.7" r="7.2"/><circle cx="1093.5" cy="548.7" r="7.2"/><circle cx="1096.2" cy="542.8" r="7.2"/><circle cx="1098.8" cy="538.0" r="7.2"/><circle cx="1101.5" cy="534.2" r="7.2"/><circle cx="1104.2" cy="531.8" r="7.2"/><circle cx="1106.9" cy="530.2" r="7.2"/><circle cx="1109.6" cy="528.8" r="7.2"/><circle cx="1112.3" cy="528.0" r="7.2"/><circle cx="1115.0" cy="532.7" r="7.2"/><circle cx="1117.7" cy="539.7" r="7.2"/><circle cx="1120.4" cy="541.5" r="7.2"/><circle cx="1123.1" cy="552.4" r="7.2"/><circle cx="1125.8" cy="572.0" r="7.2"/><circle cx="1128.4" cy="590.0" r="7.2"/><circle cx="1131.1" cy="603.9" r="7.2"/><circle cx="1133.8" cy="615.7" r="7.2"/><circle cx="1136.5" cy="624.8" r="7.2"/><circle cx="1139.2" cy="628.0" r="7.2"/><circle cx="1141.9" cy="624.8" r="7.2"/><circle cx="1144.6" cy="613.4" r="7.2"/><circle cx="1147.3" cy="596.6" r="7.2"/><circle cx="1150.0" cy="581.1" r="7.2"/><circle cx="1152.7" cy="567.7" r="7.2"/><circle cx="1155.3" cy="558.6" r="7.2"/><circle cx="1158.0" cy="550.0" r="7.2"/><circle cx="1160.7" cy="546.1" r="7.2"/><circle cx="1163.4" cy="545.6" r="7.2"/><circle cx="1166.1" cy="546.0" r="7.2"/><circle cx="1168.8" cy="548.2" r="7.2"/><circle cx="1171.5" cy="550.2" r="7.2"/><circle cx="1174.2" cy="548.3" r="7.2"/><circle cx="1176.9" cy="546.3" r="7.2"/><circle cx="1179.5" cy="547.9" r="7.2"/><circle cx="1182.2" cy="550.5" r="7.2"/><circle cx="1184.9" cy="552.5" r="7.2"/><circle cx="1187.6" cy="557.7" r="7.2"/><circle cx="1190.3" cy="576.6" r="7.2"/><circle cx="1193.0" cy="598.3" r="7.2"/>
</g>
<path d="M117.0 619.0 L119.7 605.3 L122.4 589.6 L125.1 573.3 L127.8 561.1 L130.4 556.3 L133.1 552.7 L135.8 550.7 L138.5 549.6 L141.2 549.6 L143.9 550.0 L146.6 551.8 L149.3 554.7 L152.0 553.8 L154.7 561.2 L157.3 573.9 L160.0 588.8 L162.7 602.9 L165.4 614.0 L168.1 621.1 L170.8 623.8 L173.5 621.6 L176.2 611.8 L178.9 591.9 L181.6 573.3 L184.2 553.3 L186.9 538.8 L189.6 526.5 L192.3 517.1 L195.0 510.2 L197.7 505.0 L200.4 501.4 L203.1 499.5 L205.8 499.8 L208.5 503.0 L211.1 508.8 L213.8 516.7 L216.5 523.2 L219.2 534.2 L221.9 552.1 L224.6 572.8 L227.3 592.7 L230.0 606.2 L232.7 616.5 L235.4 622.5 L238.1 622.9 L240.7 615.3 L243.4 600.1 L246.1 584.8 L248.8 561.2 L251.5 550.1 L254.2 541.3 L256.9 534.8 L259.6 529.7 L262.3 526.1 L264.9 524.0 L267.6 522.6 L270.3 521.8 L273.0 523.2 L275.7 528.8 L278.4 537.9 L281.1 542.7 L283.8 552.0 L286.5 571.5 L289.2 590.0 L291.9 604.4 L294.5 616.3 L297.2 623.9 L299.9 628.0 L302.6 623.7 L305.3 609.8 L308.0 593.1 L310.7 575.4 L313.4 561.8 L316.1 550.8 L318.8 542.4 L321.4 536.0 L324.1 531.1 L326.8 527.4 L329.5 524.7 L332.2 522.9 L334.9 522.1 L337.6 524.5 L340.3 533.0 L343.0 539.3 L345.6 541.0 L348.3 549.8 L351.0 571.9 L353.7 588.1 L356.4 601.8 L359.1 613.9 L361.8 622.9 L364.5 628.0 L367.2 626.7 L369.9 619.2 L372.5 602.2 L375.2 584.2 L377.9 560.7 L380.6 548.7 L383.3 540.2 L386.0 534.2 L388.7 530.1 L391.4 527.6 L394.1 528.0 L396.8 530.5 L399.4 535.2 L402.1 539.9 L404.8 544.6 L407.5 548.3 L410.2 549.6 L412.9 558.8 L415.6 576.7 L418.3 592.7 L421.0 607.1 L423.7 618.8 L426.3 626.0 L429.0 629.6 L431.7 627.8 L434.4 620.3 L437.1 605.0 L439.8 586.9 L442.5 570.8 L445.2 555.0 L447.9 545.7 L450.6 538.1 L453.2 531.1 L455.9 526.2 L458.6 523.4 L461.3 522.1 L464.0 523.0 L466.7 525.9 L469.4 532.9 L472.1 541.1 L474.8 544.4 L477.5 551.5 L480.1 565.0 L482.8 583.5 L485.5 597.7 L488.2 609.5 L490.9 618.5 L493.6 625.1 L496.3 628.4 L499.0 626.5 L501.7 619.3 L504.4 607.3 L507.1 594.0 L509.7 583.4 L512.4 577.8 L515.1 575.0 L517.8 573.5 L520.5 572.3 L523.2 570.8 L525.9 568.6 L528.6 565.8 L531.3 563.6 L534.0 565.9 L536.6 569.2 L539.3 569.3 L542.0 575.6 L544.7 591.6 L547.4 607.2 L550.1 618.9 L552.8 629.2 L555.5 636.8 L558.2 641.0 L560.8 642.6 L563.5 641.9 L566.2 638.7 L568.9 621.7 L571.6 604.0 L574.3 590.3 L577.0 583.2 L579.7 579.1 L582.4 576.5 L585.1 574.3 L587.8 573.0 L590.4 571.4 L593.1 569.9 L595.8 569.3 L598.5 571.5 L601.2 573.9 L603.9 575.4 L606.6 587.8 L609.3 602.4 L612.0 616.8 L614.6 629.2 L617.3 638.5 L620.0 644.0 L622.7 645.8 L625.4 642.9 L628.1 633.6 L630.8 617.7 L633.5 599.8 L636.2 586.0 L638.9 576.8 L641.5 571.2 L644.2 567.1 L646.9 564.6 L649.6 562.8 L652.3 561.2 L655.0 560.1 L657.7 558.9 L660.4 558.1 L663.1 561.9 L665.8 567.7 L668.5 569.6 L671.1 577.5 L673.8 596.2 L676.5 611.2 L679.2 625.6 L681.9 637.0 L684.6 643.1 L687.3 645.6 L690.0 644.2 L692.7 635.5 L695.4 617.9 L698.0 599.5 L700.7 583.3 L703.4 574.0 L706.1 565.7 L708.8 559.5 L711.5 555.8 L714.2 553.8 L716.9 553.2 L719.6 552.5 L722.2 551.6 L724.9 552.3 L727.6 556.4 L730.3 562.3 L733.0 564.1 L735.7 572.0 L738.4 589.9 L741.1 606.3 L743.8 619.6 L746.5 630.8 L749.1 638.5 L751.8 642.0 L754.5 640.7 L757.2 630.8 L759.9 612.7 L762.6 592.5 L765.3 576.3 L768.0 564.3 L770.7 557.4 L773.4 552.7 L776.0 549.5 L778.7 547.5 L781.4 547.3 L784.1 547.3 L786.8 548.0 L789.5 550.4 L792.2 554.3 L794.9 558.0 L797.6 559.8 L800.3 568.0 L802.9 589.8 L805.6 604.7 L808.3 615.0 L811.0 623.9 L813.7 630.1 L816.4 632.7 L819.1 630.7 L821.8 620.7 L824.5 600.7 L827.2 578.4 L829.9 556.7 L832.5 546.6 L835.2 540.3 L837.9 535.9 L840.6 532.7 L843.3 529.8 L846.0 527.3 L848.7 525.1 L851.4 524.1 L854.1 525.0 L856.8 529.2 L859.4 533.4 L862.1 531.9 L864.8 536.9 L867.5 555.3 L870.2 580.3 L872.9 592.9 L875.6 603.1 L878.3 609.7 L881.0 613.4 L883.6 611.3 L886.3 601.1 L889.0 585.1 L891.7 569.6 L894.4 545.3 L897.1 536.2 L899.8 531.7 L902.5 529.5 L905.2 529.8 L907.9 530.5 L910.5 532.1 L913.2 533.9 L915.9 534.4 L918.6 534.5 L921.3 536.1 L924.0 538.3 L926.7 538.4 L929.4 545.3 L932.1 564.0 L934.8 587.4 L937.4 600.6 L940.1 608.9 L942.8 615.8 L945.5 620.3 L948.2 622.4 L950.9 621.3 L953.6 614.0 L956.3 599.7 L959.0 582.3 L961.7 569.7 L964.4 561.3 L967.0 556.5 L969.7 554.5 L972.4 553.6 L975.1 552.9 L977.8 552.1 L980.5 550.7 L983.2 551.2 L985.9 557.3 L988.6 563.6 L991.2 565.6 L993.9 575.8 L996.6 592.4 L999.3 609.5 L1002.0 622.8 L1004.7 632.7 L1007.4 639.2 L1010.1 643.4 L1012.8 646.4 L1015.5 646.2 L1018.1 644.1 L1020.8 632.9 L1023.5 617.0 L1026.2 602.5 L1028.9 593.6 L1031.6 588.3 L1034.3 584.5 L1037.0 581.2 L1039.7 577.3 L1042.4 573.0 L1045.0 569.7 L1047.7 567.9 L1050.4 568.3 L1053.1 570.5 L1055.8 569.4 L1058.5 575.4 L1061.2 591.7 L1063.9 606.6 L1066.6 618.2 L1069.3 627.5 L1071.9 634.5 L1074.6 638.5 L1077.3 635.2 L1080.0 621.1 L1082.7 604.2 L1085.4 587.9 L1088.1 572.4 L1090.8 560.7 L1093.5 548.7 L1096.2 542.8 L1098.8 538.0 L1101.5 534.2 L1104.2 531.8 L1106.9 530.2 L1109.6 528.8 L1112.3 528.0 L1115.0 532.7 L1117.7 539.7 L1120.4 541.5 L1123.1 552.4 L1125.8 572.0 L1128.4 590.0 L1131.1 603.9 L1133.8 615.7 L1136.5 624.8 L1139.2 628.0 L1141.9 624.8 L1144.6 613.4 L1147.3 596.6 L1150.0 581.1 L1152.7 567.7 L1155.3 558.6 L1158.0 550.0 L1160.7 546.1 L1163.4 545.6 L1166.1 546.0 L1168.8 548.2 L1171.5 550.2 L1174.2 548.3 L1176.9 546.3 L1179.5 547.9 L1182.2 550.5 L1184.9 552.5 L1187.6 557.7 L1190.3 576.6 L1193.0 598.3" fill="none" stroke="#f00" stroke-width="4.5" stroke-linejoin="round" stroke-linecap="round"/>
<g stroke="#262626" stroke-width="1.6" stroke-linecap="butt"><line x1="123.5" y1="402" x2="138.5" y2="417.2"/><line x1="123.5" y1="417.2" x2="138.5" y2="402"/></g>
<g>
<rect x="842.5" y="429.5" width="348" height="85" fill="#fff" stroke="#262626" stroke-width="1"/>
<line x1="853" y1="452.3" x2="872" y2="452.3" stroke="#000" stroke-width="4.6"/>
<line x1="889" y1="452.3" x2="910" y2="452.3" stroke="#000" stroke-width="4.6"/>
<circle cx="889.6" cy="452.3" r="7.2" fill="none" stroke="#000" stroke-width="4.4"/>
<line x1="853" y1="491.5" x2="926" y2="491.5" stroke="#f00" stroke-width="4.6"/>
<g font-size="30.7" fill="#000">
<text x="932.5" y="463.9">the original data</text>
<text x="932.5" y="503.9">the predicted data</text>
</g>
</g>
</svg>
</body></html>
